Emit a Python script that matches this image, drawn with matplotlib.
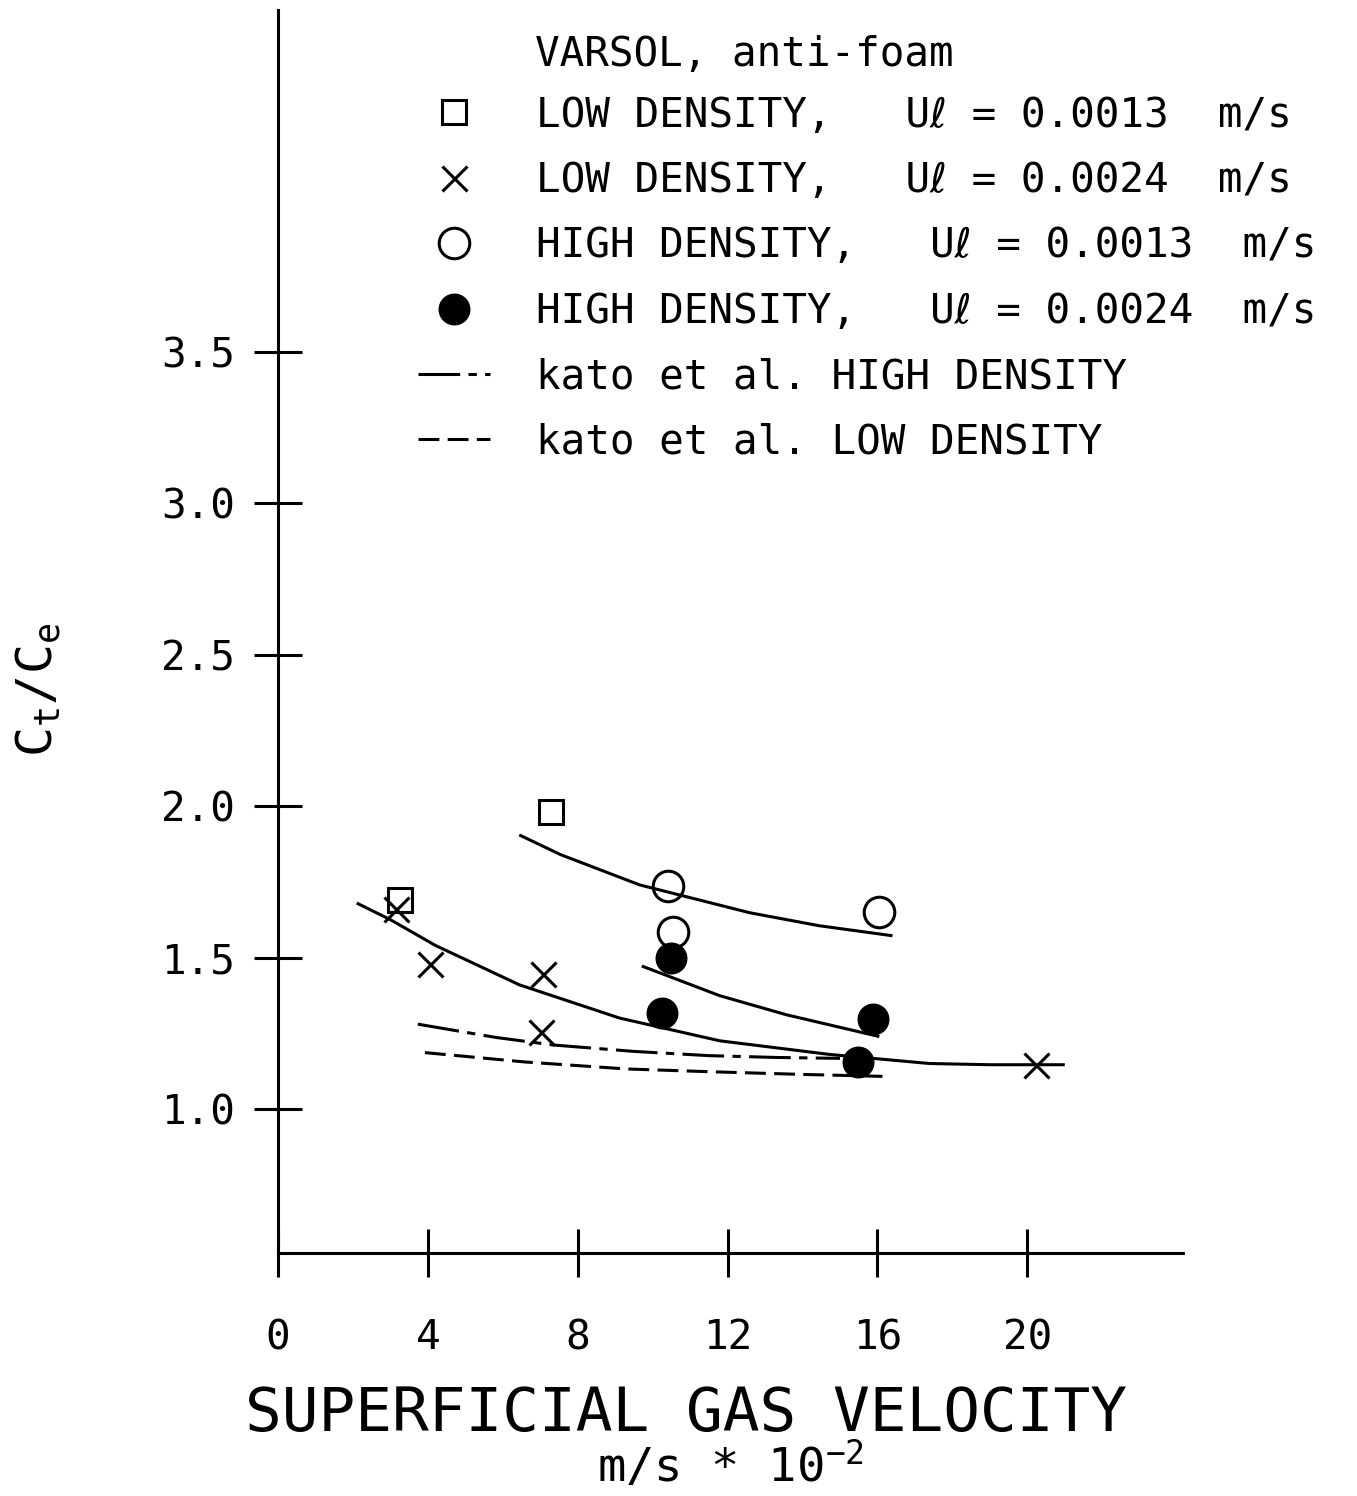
import numpy as np
import matplotlib
matplotlib.use("Agg")
import matplotlib.pyplot as plt

# measured points (superficial gas velocity, m/s * 1e-2 ; Ct/Ce)
low_13_x = [3.25, 7.28]
low_13_y = [1.69, 1.98]
low_24_x = [3.15, 4.05, 7.08, 7.03, 20.24]
low_24_y = [1.66, 1.48, 1.447, 1.255, 1.145]
high_13_x = [10.4, 10.53, 16.05]
high_13_y = [1.737, 1.585, 1.651]
high_24_x = [10.5, 10.24, 15.87, 15.47]
high_24_y = [1.50, 1.318, 1.296, 1.154]

# hand drawn fit curves
fit_top_x = [6.44, 7.54, 9.65, 12.59, 14.45, 16.4]
fit_top_y = [1.905, 1.84, 1.74, 1.648, 1.605, 1.572]
fit_mid_x = [2.1, 3.0, 4.2, 6.44, 9.12, 11.79, 14.72, 17.39, 19.0, 21.0]
fit_mid_y = [1.68, 1.625, 1.54, 1.41, 1.30, 1.225, 1.18, 1.15, 1.146, 1.146]
fit_hi_x = [9.71, 11.79, 13.57, 16.05]
fit_hi_y = [1.472, 1.374, 1.311, 1.239]

# kato et al. correlations
kato_high_x = [3.73, 5.82, 7.36, 9.5, 11.5, 13.3, 15.0]
kato_high_y = [1.28, 1.236, 1.211, 1.19, 1.176, 1.17, 1.167]
kato_low_x = [3.92, 6.6, 9.3, 11.5, 14.0, 16.32]
kato_low_y = [1.186, 1.155, 1.132, 1.123, 1.114, 1.107]

xticks = [0, 4, 8, 12, 16, 20]
yticks = [1.0, 1.5, 2.0, 2.5, 3.0, 3.5]

plt.rcParams['font.family'] = ['DejaVu Sans Mono', 'DejaVu Sans']
plt.rcParams['mathtext.fontset'] = 'custom'
plt.rcParams['mathtext.rm'] = 'DejaVu Sans Mono'
plt.rcParams['mathtext.it'] = 'DejaVu Sans Mono'
plt.rcParams['mathtext.default'] = 'rm'
plt.rcParams['lines.scale_dashes'] = False

fs = 29.5
lw = 2.2

fig = plt.figure(figsize=(13.57, 14.96), dpi=100)
ax = fig.add_axes([0.2049, 0.1624, 0.667, 0.831])

# fitted lines
for xx, yy in [(fit_top_x, fit_top_y), (fit_mid_x, fit_mid_y), (fit_hi_x, fit_hi_y)]:
    ax.plot(xx, yy, color='black', lw=lw, solid_capstyle='butt')

ax.plot(kato_high_x, kato_high_y, color='black', lw=lw,
        dashes=(30, 6, 6, 6), label='kato et al. HIGH DENSITY')
ax.plot(kato_low_x, kato_low_y, color='black', lw=lw,
        dashes=(15, 6), label='kato et al. LOW DENSITY')

ax.plot(low_13_x, low_13_y, ls='none', marker='s', ms=17, mfc='none',
        mec='black', mew=2.2, label='LOW DENSITY,   U\u2113 = 0.0013  m/s')
ax.plot(low_24_x, low_24_y, ls='none', marker='x', ms=18,
        mec='black', mew=2.2, label='LOW DENSITY,   U\u2113 = 0.0024  m/s')
ax.plot(high_13_x, high_13_y, ls='none', marker='o', ms=22, mfc='none',
        mec='black', mew=2.2, label='HIGH DENSITY,   U\u2113 = 0.0013  m/s')
ax.plot(high_24_x, high_24_y, ls='none', marker='o', ms=22, mfc='black',
        mec='black', mew=1, label='HIGH DENSITY,   U\u2113 = 0.0024  m/s')

ax.set_xlim(0.19, 24.16)
ax.set_ylim(0.524, 4.63)
ax.set_xticks(xticks)
ax.set_xticklabels([str(t) for t in xticks])
ax.set_yticks(yticks)
ax.set_yticklabels([f'{t:.1f}' for t in yticks])

for side in ['top', 'right']:
    ax.spines[side].set_visible(False)
for side in ['left', 'bottom']:
    ax.spines[side].set_linewidth(lw)

ax.tick_params(direction='inout', length=34, width=lw, labelsize=fs)
ax.tick_params(axis='y', pad=14)
ax.tick_params(axis='x', pad=30)

ax.set_ylabel('C$_t$/C$_e$', fontsize=36)
ax.yaxis.set_label_coords(-0.238, 0.453)
ax.set_xlabel('SUPERFICIAL GAS VELOCITY', fontsize=44)
ax.xaxis.set_label_coords(0.451, -0.106)
ax.text(0.5, -0.192, 'm/s * 10$^{-2}$', transform=ax.transAxes,
        fontsize=34, ha='center', va='bottom')

# legend heading + entries
ax.text(0.284, 0.964, 'VARSOL, anti-foam', transform=ax.transAxes,
        fontsize=fs, va='center', ha='left')
h, l = ax.get_legend_handles_labels()
order = [2, 3, 4, 5, 0, 1]
ax.legend([h[i] for i in order], [l[i] for i in order],
          loc='upper left', bbox_to_anchor=(0.155, 0.931),
          frameon=False, fontsize=fs, borderpad=0, borderaxespad=0,
          handlelength=1.76, handletextpad=1.1, labelspacing=0.62)

fig.savefig('out.png', dpi=100)
